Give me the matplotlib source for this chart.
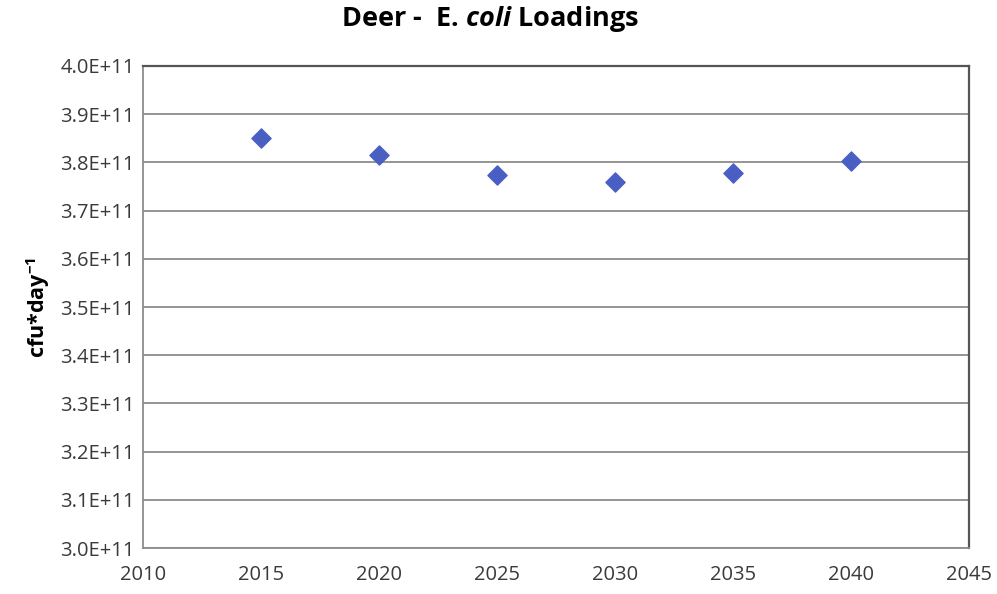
import matplotlib
matplotlib.use('Agg')
import matplotlib.pyplot as plt

years = [2015, 2020, 2025, 2030, 2035, 2040]
loadings = [3.85e11, 3.816e11, 3.774e11, 3.759e11, 3.779e11, 3.803e11]
yticks = [3.0e11 + i * 0.1e11 for i in range(11)]
xticks = [2010, 2015, 2020, 2025, 2030, 2035, 2040, 2045]

plt.rcParams['font.family'] = ['Open Sans', 'DejaVu Sans']
plt.rcParams['mathtext.fontset'] = 'custom'
plt.rcParams['mathtext.it'] = 'Open Sans:italic:bold'
plt.rcParams['mathtext.rm'] = 'Open Sans:bold'
plt.rcParams['mathtext.bf'] = 'Open Sans:bold'

fig = plt.figure(figsize=(9.97, 5.94), dpi=100)
ax = fig.add_axes([0.1434, 0.0774, 0.8285, 0.8115])

ax.scatter(years, loadings, marker='D', s=95, color='#4a5fc4', zorder=3)

ax.set_xlim(2010, 2045)
ax.set_ylim(3.0e11, 4.0e11)
ax.set_xticks(xticks)
ax.set_yticks(yticks)
ax.set_yticklabels([f'{v/1e11:.1f}E+11' for v in yticks])
ax.tick_params(axis='both', length=0, labelsize=14.5, colors='#3a3a3a')
ax.tick_params(axis='x', pad=12)
ax.tick_params(axis='y', pad=6)

ax.grid(axis='y', color='#8c8c8c', linewidth=1.3)
ax.set_axisbelow(True)
for side in ['left', 'bottom']:
    ax.spines[side].set_color('#8c8c8c')
    ax.spines[side].set_linewidth(1.3)
for side in ['top', 'right']:
    ax.spines[side].set_color('#555555')
    ax.spines[side].set_linewidth(1.6)

ax.set_ylabel(r'cfu*day$^{\mathbf{-1}}$', fontsize=15.5, fontweight='bold', labelpad=6)
fig.text(0.491, 0.968, r'Deer -  E. $\mathit{coli}$ Loadings', ha='center', va='center',
         fontsize=19.5, fontweight='bold')

fig.savefig('out.png', dpi=100)
